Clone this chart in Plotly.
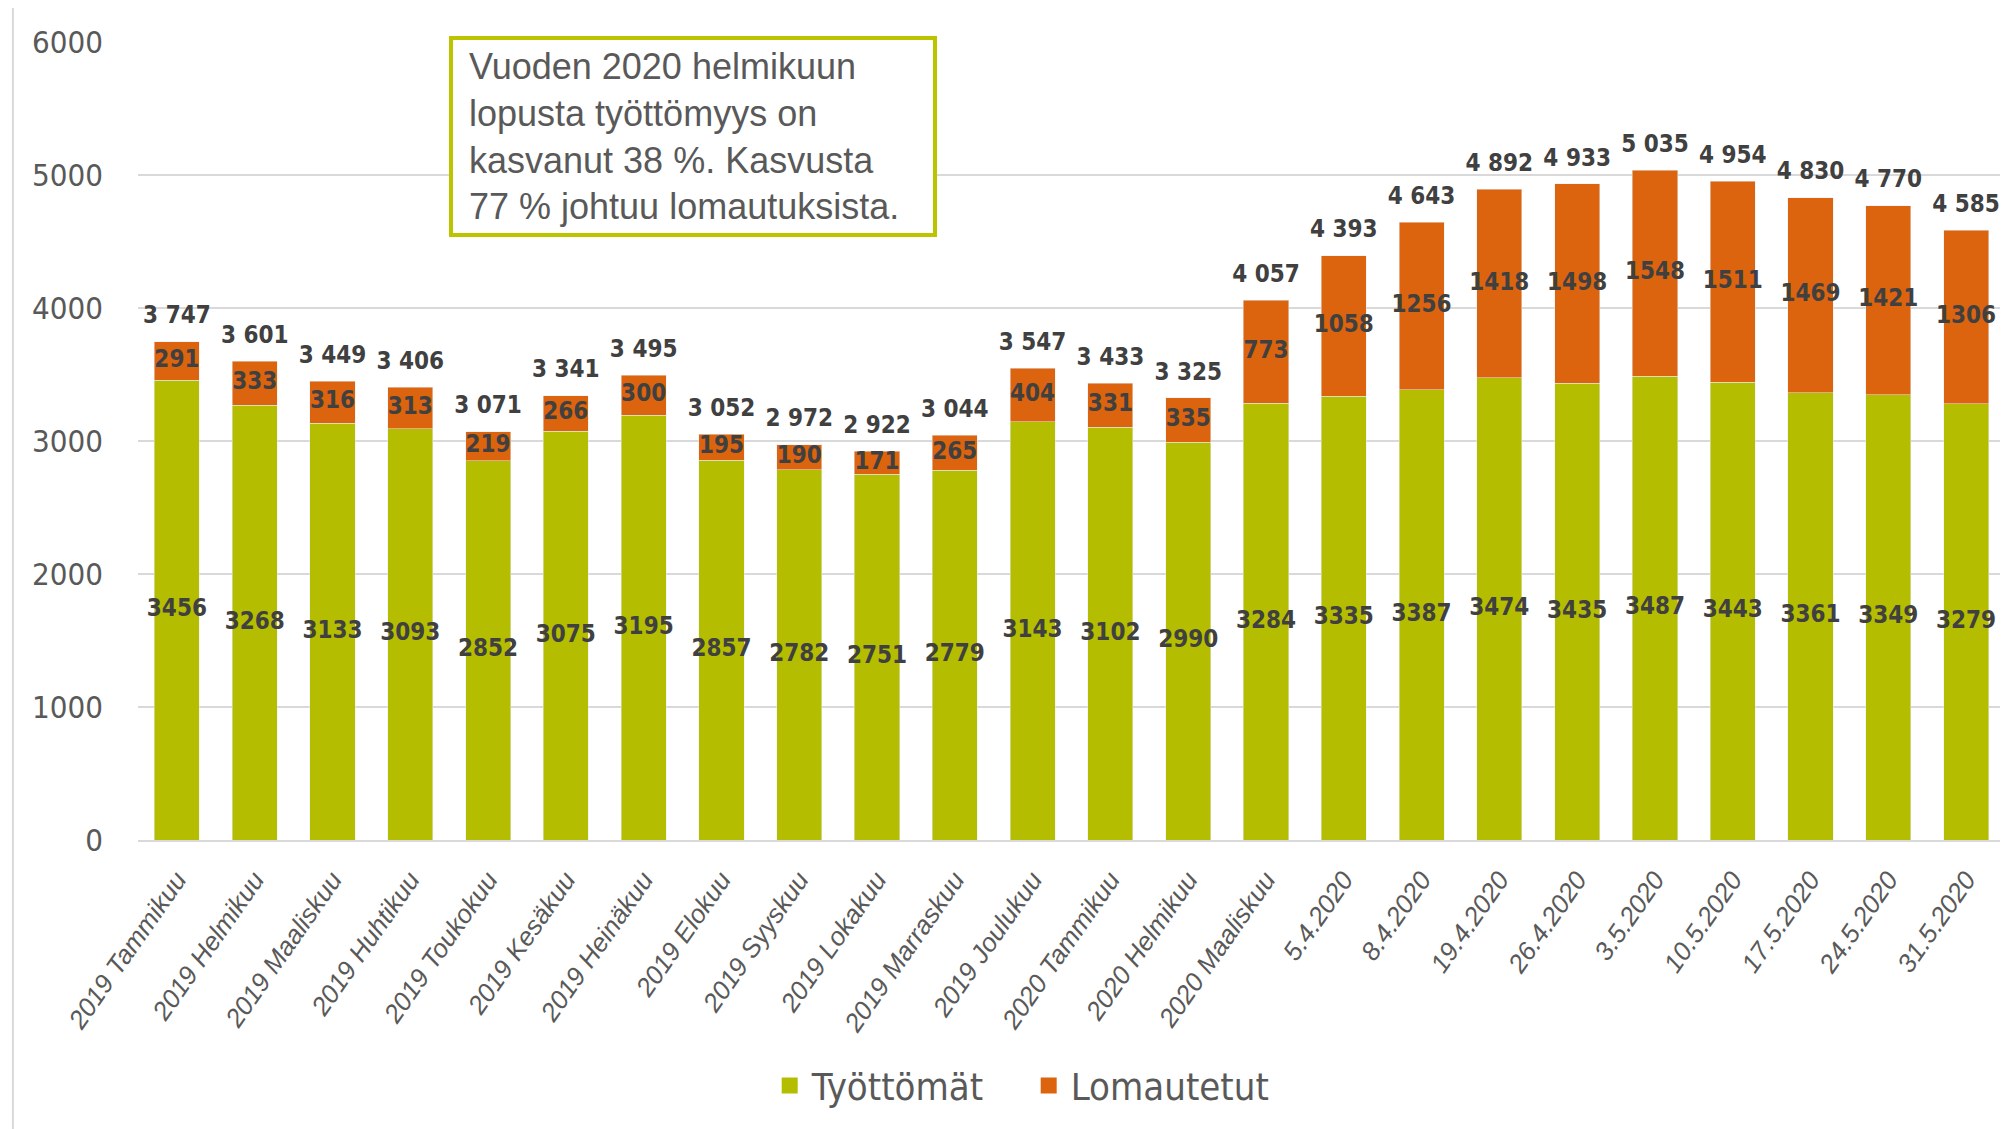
import plotly.graph_objects as go

kuukaudet = ["2019 Tammikuu", "2019 Helmikuu", "2019 Maaliskuu", "2019 Huhtikuu",
             "2019 Toukokuu", "2019 Kesäkuu", "2019 Heinäkuu", "2019 Elokuu",
             "2019 Syyskuu", "2019 Lokakuu", "2019 Marraskuu", "2019 Joulukuu",
             "2020 Tammikuu", "2020 Helmikuu", "2020 Maaliskuu", "5.4.2020",
             "8.4.2020", "19.4.2020", "26.4.2020", "3.5.2020", "10.5.2020",
             "17.5.2020", "24.5.2020", "31.5.2020"]
tyottomat = [3456, 3268, 3133, 3093, 2852, 3075, 3195, 2857, 2782, 2751, 2779, 3143,
             3102, 2990, 3284, 3335, 3387, 3474, 3435, 3487, 3443, 3361, 3349, 3279]
lomautetut = [291, 333, 316, 313, 219, 266, 300, 195, 190, 171, 265, 404,
              331, 335, 773, 1058, 1256, 1418, 1498, 1548, 1511, 1469, 1421, 1306]
y_ticks = [0, 1000, 2000, 3000, 4000, 5000, 6000]

VIHREA = "#B5BD00"
ORANSSI = "#DC640E"
KAPEA = "DejaVu Sans Condensed, Liberation Sans Narrow, Arial"
label_font = dict(family=KAPEA, size=24, color="#404040", weight="bold")

yhteensa = [a + b for a, b in zip(tyottomat, lomautetut)]

fig = go.Figure()
fig.add_bar(x=kuukaudet, y=tyottomat, name="Työttömät", marker_color=VIHREA, showlegend=False)
fig.add_bar(x=kuukaudet, y=lomautetut, name="Lomautetut", marker_color=ORANSSI, showlegend=False)

# legend entries with bigger square symbols
for nimi, vari in [("Työttömät", VIHREA), ("Lomautetut", ORANSSI)]:
    fig.add_scatter(x=[None], y=[None], mode="markers", name=nimi,
                    marker=dict(symbol="square", size=16, color=vari))

# segment labels, centred in each segment
fig.add_scatter(x=kuukaudet, y=[v / 2 for v in tyottomat], mode="text",
                text=[str(v) for v in tyottomat], textfont=label_font,
                showlegend=False, hoverinfo="skip")
fig.add_scatter(x=kuukaudet, y=[a + b / 2 for a, b in zip(tyottomat, lomautetut)], mode="text",
                text=[str(v) for v in lomautetut], textfont=label_font,
                showlegend=False, hoverinfo="skip")
# totals above the bars (invisible marker just to lift the text a bit)
fig.add_scatter(x=kuukaudet, y=yhteensa, mode="markers+text", textposition="top center",
                marker=dict(size=18, color="rgba(0,0,0,0)"),
                text=[f"{v:,}".replace(",", " ") for v in yhteensa], textfont=label_font,
                showlegend=False, hoverinfo="skip")

rivit = ["Vuoden 2020 helmikuun", "lopusta työttömyys on",
         "kasvanut 38 %. Kasvusta", "77 % johtuu lomautuksista."]
fig.add_annotation(
    xref="paper", yref="paper", x=0.1666, y=1.008, xanchor="left", yanchor="top",
    text="<br>".join("&nbsp;" + r for r in rivit),
    showarrow=False, align="left", width=468, bgcolor="white", bordercolor="#BCC400", borderwidth=4,
    borderpad=6, font=dict(family="Liberation Sans, Arial", size=36, color="#595959"),
)

# outer chart frame
fig.add_shape(type="line", xref="paper", yref="paper", x0=-0.067, x1=1.1, y0=1.045, y1=1.045,
              line=dict(color="#D9D9D9", width=2))
fig.add_shape(type="line", xref="paper", yref="paper", x0=-0.067, x1=-0.067, y0=1.045, y1=-0.4,
              line=dict(color="#D9D9D9", width=2))

# page body adds 8px around the figure
fig.update_layout(
    width=2000, height=1121,
    barmode="stack", bargap=0.42,
    plot_bgcolor="white", paper_bgcolor="white",
    margin=dict(l=130, r=3, t=34, b=289, autoexpand=False),
    legend=dict(orientation="h", traceorder="normal", itemsizing="trace", itemwidth=34,
                entrywidth=210, x=0.476, xanchor="center", y=-0.308, yanchor="middle",
                font=dict(family=KAPEA, size=38, color="#595959")),
)
fig.update_xaxes(range=[-0.5, len(kuukaudet) - 0.5], tickangle=-55, automargin=False,
                 showline=True, linecolor="#D9D9D9", linewidth=2,
                 ticks="outside", ticklen=12, tickcolor="rgba(0,0,0,0)",
                 tickfont=dict(family="Liberation Sans, Arial", size=26, color="#595959", style="italic"))
fig.update_yaxes(range=[0, 6000], tickvals=y_ticks, gridcolor="#D9D9D9", gridwidth=2,
                 zeroline=False, ticklabelstandoff=34, automargin=False,
                 tickfont=dict(family=KAPEA, size=31, color="#595959"))

fig.write_html("out.html")
